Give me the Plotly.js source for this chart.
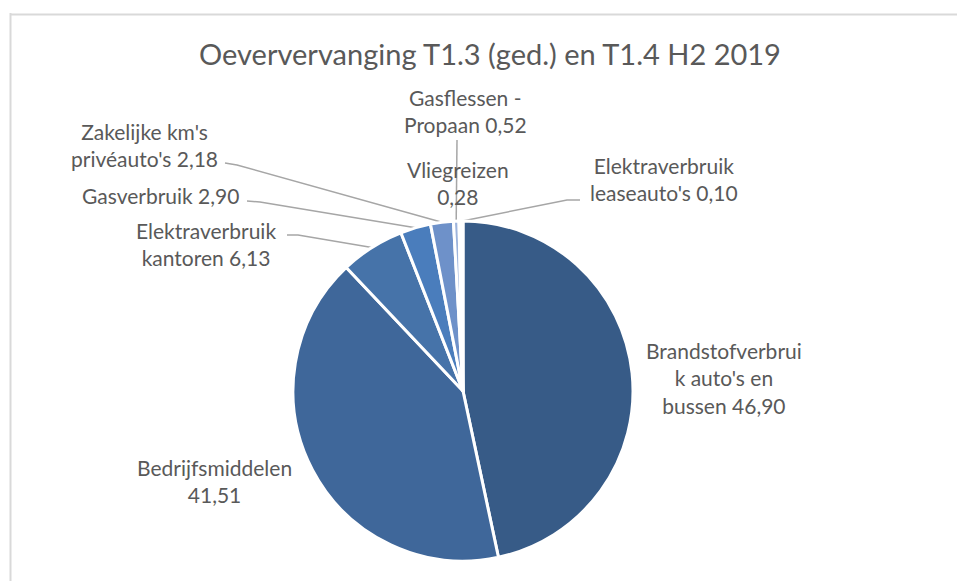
<!DOCTYPE html>
<html>
<head>
<meta charset="utf-8">
<script src="https://cdn.plot.ly/plotly-3.0.1.min.js"></script>
<style>
  html, body { margin: 0; padding: 0; background: #ffffff; }
  #chart { width: 957px; height: 581px; }
</style>
</head>
<body>
<div id="chart"></div>
<script>
// ---- data ----
const categories = [
  "Brandstofverbruik auto's en bussen",
  "Bedrijfsmiddelen",
  "Elektraverbruik kantoren",
  "Gasverbruik",
  "Zakelijke km's privéauto's",
  "Gasflessen - Propaan",
  "Vliegreizen",
  "Elektraverbruik leaseauto's"
];
const values = [46.90, 41.51, 6.13, 2.90, 2.18, 0.52, 0.28, 0.10];
const labelNames = [
  "Brandstofverbrui<br>k auto's en<br>bussen",
  "Bedrijfsmiddelen<br>",
  "Elektraverbruik<br>kantoren",
  "Gasverbruik",
  "Zakelijke km's<br>privéauto's",
  "Gasflessen -<br>Propaan",
  "Vliegreizen<br>",
  "Elektraverbruik<br>leaseauto's"
];
const titleText = "Oeververvanging T1.3 (ged.) en T1.4 H2 2019";

// ---- styles / layout ----
const colors = ["#375B87", "#3F679A", "#4673A9", "#4A7DBC", "#6E91C9", "#9DB4DC", "#BCCCE8", "#D5E0F2"];
const W = 957, H = 581;
const cx = 463, cy = 391, R = 170;
// label centre positions (pixels)
const labelPos = [[724, 378], [214, 481], [206, 244], [160, 195], [144, 145], [465, 111], [458, 183], [664, 179]];
// leader line: label-side start and elbow (pixels), null = no line
const leaderPts = [null, null, [[287, 235], [298, 235]], [[247, 201], [260, 202]], [[225, 163], [237, 165]],
                   [[457, 140], null], null, [[580, 200], [567, 200]]];

const fmt = v => v.toFixed(2).replace('.', ',');
const px = x => x / W;
const py = y => 1 - y / H;

const total = values.reduce((a, b) => a + b, 0);
let cum = 0;
const midEdge = values.map(v => {
  const mid = (cum + v / 2) / total;
  cum += v;
  const ang = mid * 2 * Math.PI;
  return [cx + R * Math.sin(ang), cy - R * Math.cos(ang)];
});

const fontFam = "Lato, 'Open Sans', sans-serif";
const annotations = labelNames.map((n, i) => {
  const txt = n.endsWith("<br>") ? n + fmt(values[i]) : n + " " + fmt(values[i]);
  return {
    text: txt, xref: 'paper', yref: 'paper',
    x: px(labelPos[i][0]), y: py(labelPos[i][1]),
    xanchor: 'center', yanchor: 'middle', align: 'center',
    showarrow: false, font: {family: fontFam, size: 21, color: '#595959'}
  };
});

const shapes = [];
leaderPts.forEach((lp, i) => {
  if (!lp) return;
  const pts = [lp[0]];
  if (lp[1]) pts.push(lp[1]);
  pts.push(midEdge[i]);
  let d = '';
  pts.forEach((p, k) => { d += (k === 0 ? 'M' : 'L') + px(p[0]) + ',' + py(p[1]); });
  shapes.push({type: 'path', xref: 'paper', yref: 'paper', path: d,
               line: {color: '#A6A6A6', width: 1.5}, layer: 'below'});
});
// chart frame
shapes.push({type: 'line', xref: 'paper', yref: 'paper', x0: px(10.5), x1: px(10.5), y0: py(13), y1: py(600),
             line: {color: '#D9D9D9', width: 2}});
shapes.push({type: 'line', xref: 'paper', yref: 'paper', x0: px(10), x1: px(980), y0: py(14.5), y1: py(14.5),
             line: {color: '#D9D9D9', width: 2}});

const trace = {
  type: 'pie',
  labels: categories,
  values: values,
  sort: false,
  direction: 'clockwise',
  rotation: 0,
  textinfo: 'none',
  hoverinfo: 'label+value',
  marker: {colors: colors, line: {color: '#ffffff', width: 3}},
  domain: {x: [px(cx - R), px(cx + R)], y: [py(cy + R), py(cy - R)]}
};

const layout = {
  width: W, height: H,
  margin: {l: 0, r: 0, t: 0, b: 0},
  paper_bgcolor: '#ffffff',
  showlegend: false,
  title: {text: titleText, x: px(490), xanchor: 'center', xref: 'paper',
          y: py(55), yanchor: 'middle', yref: 'paper',
          font: {family: fontFam, size: 29, color: '#595959'}},
  annotations: annotations,
  shapes: shapes
};

Plotly.newPlot('chart', [trace], layout, {displayModeBar: false, staticPlot: true});
</script>
</body>
</html>
